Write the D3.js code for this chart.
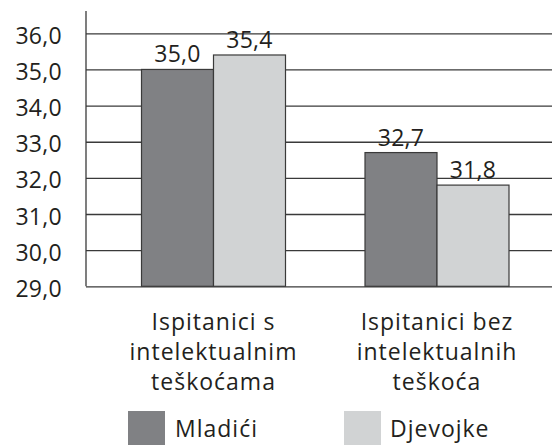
<!DOCTYPE html>
<html>
<head>
<meta charset="utf-8">
<script src="https://cdn.jsdelivr.net/npm/d3@7/dist/d3.min.js"></script>
<style>
  html, body { margin: 0; padding: 0; background: #fff; }
  svg { display: block; }
  text { font-family: "Open Sans", "Noto Sans", sans-serif; fill: #231f20; }
  .lbl { letter-spacing: 1px; }
  .num { letter-spacing: 0.3px; }
</style>
</head>
<body>
<svg id="chart" width="552" height="445"></svg>
<script>
const categories = [
  ["Ispitanici s", "intelektualnim", "teškoćama"],
  ["Ispitanici bez", "intelektualnih", "teškoća"]
];
const seriesNames = ["Mladići", "Djevojke"];
const mladici = [35.0, 32.7];
const djevojke = [35.4, 31.8];
const yTicks = [29, 30, 31, 32, 33, 34, 35, 36];
const colors = ["#808184", "#d1d3d4"];

const svg = d3.select("#chart");
const axisX = 86, plotRight = 552;
const yTop = 33.3, yBottom = 286.3;
const fontSize = 23;

const catKeys = categories.map((c, i) => i);
const seriesValues = [mladici, djevojke];

const y = d3.scaleLinear().domain([29, 36]).range([yBottom, yTop]);
const x0 = d3.scaleBand().domain(catKeys).range([101.75, 548.75]).padding(0);
const bw = x0.bandwidth();
const barW = 72;
const x1 = d3.scaleBand().domain(seriesNames).range([bw / 2 - barW, bw / 2 + barW]).padding(0);

const fmt = v => d3.format(".1f")(v).replace(".", ",");

// gridlines + tick labels
const yAxis = d3.axisLeft(y)
  .tickValues(yTicks)
  .tickSizeInner(-(plotRight - axisX))
  .tickSizeOuter(0)
  .tickPadding(24)
  .tickFormat(fmt);

const gAxis = svg.append("g")
  .attr("transform", `translate(${axisX},0)`)
  .call(yAxis);
gAxis.select(".domain").remove();
gAxis.selectAll(".tick line").attr("stroke", "#3a3a3a").attr("stroke-width", 1.3);
gAxis.selectAll(".tick text")
  .attr("class", "num")
  .attr("dy", "0.44em")
  .style("font-size", fontSize + "px")
  .style("font-family", "'Open Sans', sans-serif")
  .attr("fill", "#231f20");

// bars
const groups = svg.append("g").selectAll("g")
  .data(catKeys)
  .join("g")
  .attr("transform", d => `translate(${x0(d)},0)`);

groups.selectAll("rect")
  .data(ci => seriesNames.map((s, si) => ({ s, si, v: seriesValues[si][ci] })))
  .join("rect")
  .attr("x", d => x1(d.s))
  .attr("y", d => y(d.v))
  .attr("width", x1.bandwidth())
  .attr("height", d => y(29) - y(d.v))
  .attr("fill", d => colors[d.si])
  .attr("stroke", "#3a3a3a")
  .attr("stroke-width", 1.2);

groups.selectAll("text.val")
  .data(ci => seriesNames.map((s, si) => ({ s, si, v: seriesValues[si][ci] })))
  .join("text")
  .attr("class", "val num")
  .attr("x", d => x1(d.s) + x1.bandwidth() / 2)
  .attr("y", d => y(d.v) - 7)
  .attr("text-anchor", "middle")
  .style("font-size", fontSize + "px")
  .text(d => fmt(d.v));

// y axis line
svg.append("line")
  .attr("x1", axisX).attr("x2", axisX)
  .attr("y1", 11).attr("y2", yBottom)
  .attr("stroke", "#3a3a3a").attr("stroke-width", 1.3);

// category labels
const catG = svg.append("g").selectAll("text")
  .data(catKeys)
  .join("text")
  .attr("class", "lbl")
  .attr("text-anchor", "middle")
  .style("font-size", fontSize + "px")
  .attr("transform", d => `translate(${x0(d) + bw / 2},329.5)`);
catG.selectAll("tspan")
  .data(d => categories[d])
  .join("tspan")
  .attr("x", 0)
  .attr("dy", (d, i) => i === 0 ? 0 : 30)
  .text(d => d);

// legend
const legendX = [128, 344];
const leg = svg.append("g").selectAll("g")
  .data(seriesNames)
  .join("g")
  .attr("transform", (d, i) => `translate(${legendX[i]},411)`);
leg.append("rect")
  .attr("width", 37).attr("height", 37)
  .attr("fill", (d, i) => colors[i]);
leg.append("text")
  .attr("class", "lbl")
  .attr("x", (d, i) => i === 0 ? 47 : 46)
  .attr("y", 26)
  .style("font-size", fontSize + "px")
  .text(d => d);
</script>
</body>
</html>
